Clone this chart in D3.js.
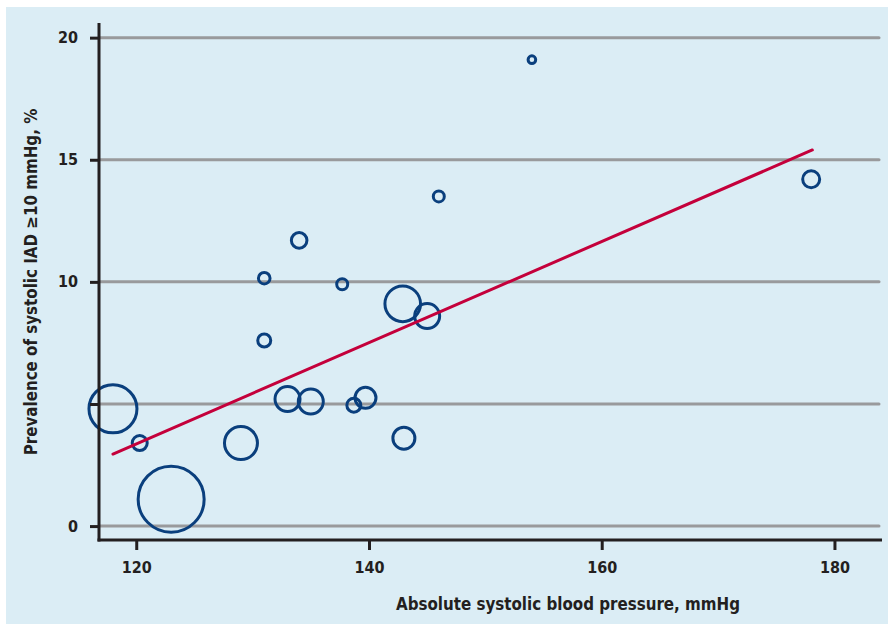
<!DOCTYPE html>
<html>
<head>
<meta charset="utf-8">
<script src="https://cdn.jsdelivr.net/npm/d3@7"></script>
<style>
  body { margin: 0; background: #fff; }
  text { font-family: "DejaVu Sans Condensed", "Liberation Sans Narrow", Roboto, sans-serif; font-weight: bold; fill: #231f20; }
</style>
</head>
<body>
<div id="chart"></div>
<script>
// studies: mean systolic BP, prevalence of IAD >= 10 mmHg, relative study size
var sbp        = [118.0, 120.3, 123.0, 129.0, 131.0, 131.0, 134.0, 133.0, 135.0, 137.7, 138.7, 139.7, 142.9, 145.0, 143.0, 146.0, 154.0, 178.0];
var prevalence = [4.8, 3.4, 1.1, 3.4, 10.15, 7.6, 11.7, 5.2, 5.1, 9.9, 4.95, 5.25, 9.1, 8.6, 3.6, 13.5, 19.1, 14.2];
var studySize  = [24, 7.5, 33, 16.5, 5.8, 6.5, 7.8, 12.5, 12.5, 5.5, 7, 10.5, 17.8, 12.5, 11, 5.5, 3.8, 8.5];

// regression line endpoints
var fitX = [118.0, 178.1];
var fitY = [2.95, 15.4];

var yTicks = [0, 5, 10, 15, 20];
var yLabels = {0: "0", 10: "10", 15: "15", 20: "20"};
var xTicks = [120, 140, 160, 180];

var W = 888, H = 624;
var margin = {top: 23, left: 99, right: 7, bottom: 84};
var width = W - margin.left - margin.right,
    height = H - margin.top - margin.bottom;

var svg = d3.select('#chart').append('svg')
    .attr('width', W).attr('height', H);

svg.append('rect')
    .attr('x', 6).attr('y', 7).attr('width', W - 6).attr('height', H - 7)
    .attr('fill', '#dbedf5');

var g = svg.append('g')
    .attr('transform', 'translate(' + margin.left + ',' + margin.top + ')');

var x = d3.scaleLinear().domain([116.8, 184]).range([0, width]);
var y = d3.scaleLinear().domain([-0.57, 20.6]).range([height, 0]);
var r = d3.scaleLinear().domain([0, 33]).range([0, 33]);

// gridlines
g.selectAll('.grid')
    .data(yTicks)
    .enter().append('line')
    .attr('class', 'grid')
    .attr('x1', 0).attr('x2', width - 2)
    .attr('y1', function(d) { return y(d) })
    .attr('y2', function(d) { return y(d) })
    .attr('stroke', '#999a9c')
    .attr('stroke-width', 3)
    .attr('stroke-linecap', 'round');

// bubbles
g.selectAll('.study')
    .data(sbp)
    .enter().append('circle')
    .attr('class', 'study')
    .attr('cx', function(d) { return x(d) })
    .attr('cy', function(d, i) { return y(prevalence[i]) })
    .attr('r', function(d, i) { return r(studySize[i]) })
    .attr('fill', 'none')
    .attr('stroke', '#0a3f7d')
    .attr('stroke-width', 3);

// fit line
g.append('line')
    .attr('x1', x(fitX[0])).attr('y1', y(fitY[0]))
    .attr('x2', x(fitX[1])).attr('y2', y(fitY[1]))
    .attr('stroke', '#c4003b')
    .attr('stroke-width', 3)
    .attr('stroke-linecap', 'round');

// axes
var yAxis = d3.axisLeft(y).tickValues(yTicks).tickSize(9).tickPadding(12)
    .tickFormat(function(d) { return yLabels[d] || '' });
var xAxis = d3.axisBottom(x).tickValues(xTicks).tickSize(10).tickPadding(12);

var ya = g.append('g').call(yAxis);
var xa = g.append('g').attr('transform', 'translate(0,' + height + ')').call(xAxis);

[ya, xa].forEach(function(a) {
    a.select('.domain').remove();
    a.selectAll('.tick line').attr('stroke', '#231f20').attr('stroke-width', 3);
    a.selectAll('.tick text')
        .attr('fill', '#231f20')
        .style('font-size', '16px')
        .style('font-family', '"DejaVu Sans Condensed", "Liberation Sans Narrow", Roboto, sans-serif')
        .style('font-weight', 'bold');
});

g.append('line')
    .attr('x1', 0).attr('x2', 0).attr('y1', 0).attr('y2', height + 1.5)
    .attr('stroke', '#231f20').attr('stroke-width', 3);
g.append('line')
    .attr('x1', -1.5).attr('x2', width + 1).attr('y1', height).attr('y2', height)
    .attr('stroke', '#231f20').attr('stroke-width', 3);

// axis titles
svg.append('text')
    .attr('x', 568).attr('y', 610)
    .attr('text-anchor', 'middle')
    .style('font-size', '16.8px')
    .text('Absolute systolic blood pressure, mmHg');

svg.append('text')
    .attr('transform', 'translate(37,282) rotate(-90)')
    .attr('text-anchor', 'middle')
    .style('font-size', '16.8px')
    .text('Prevalence of systolic IAD  \u226510 mmHg, %');
</script>
</body>
</html>
